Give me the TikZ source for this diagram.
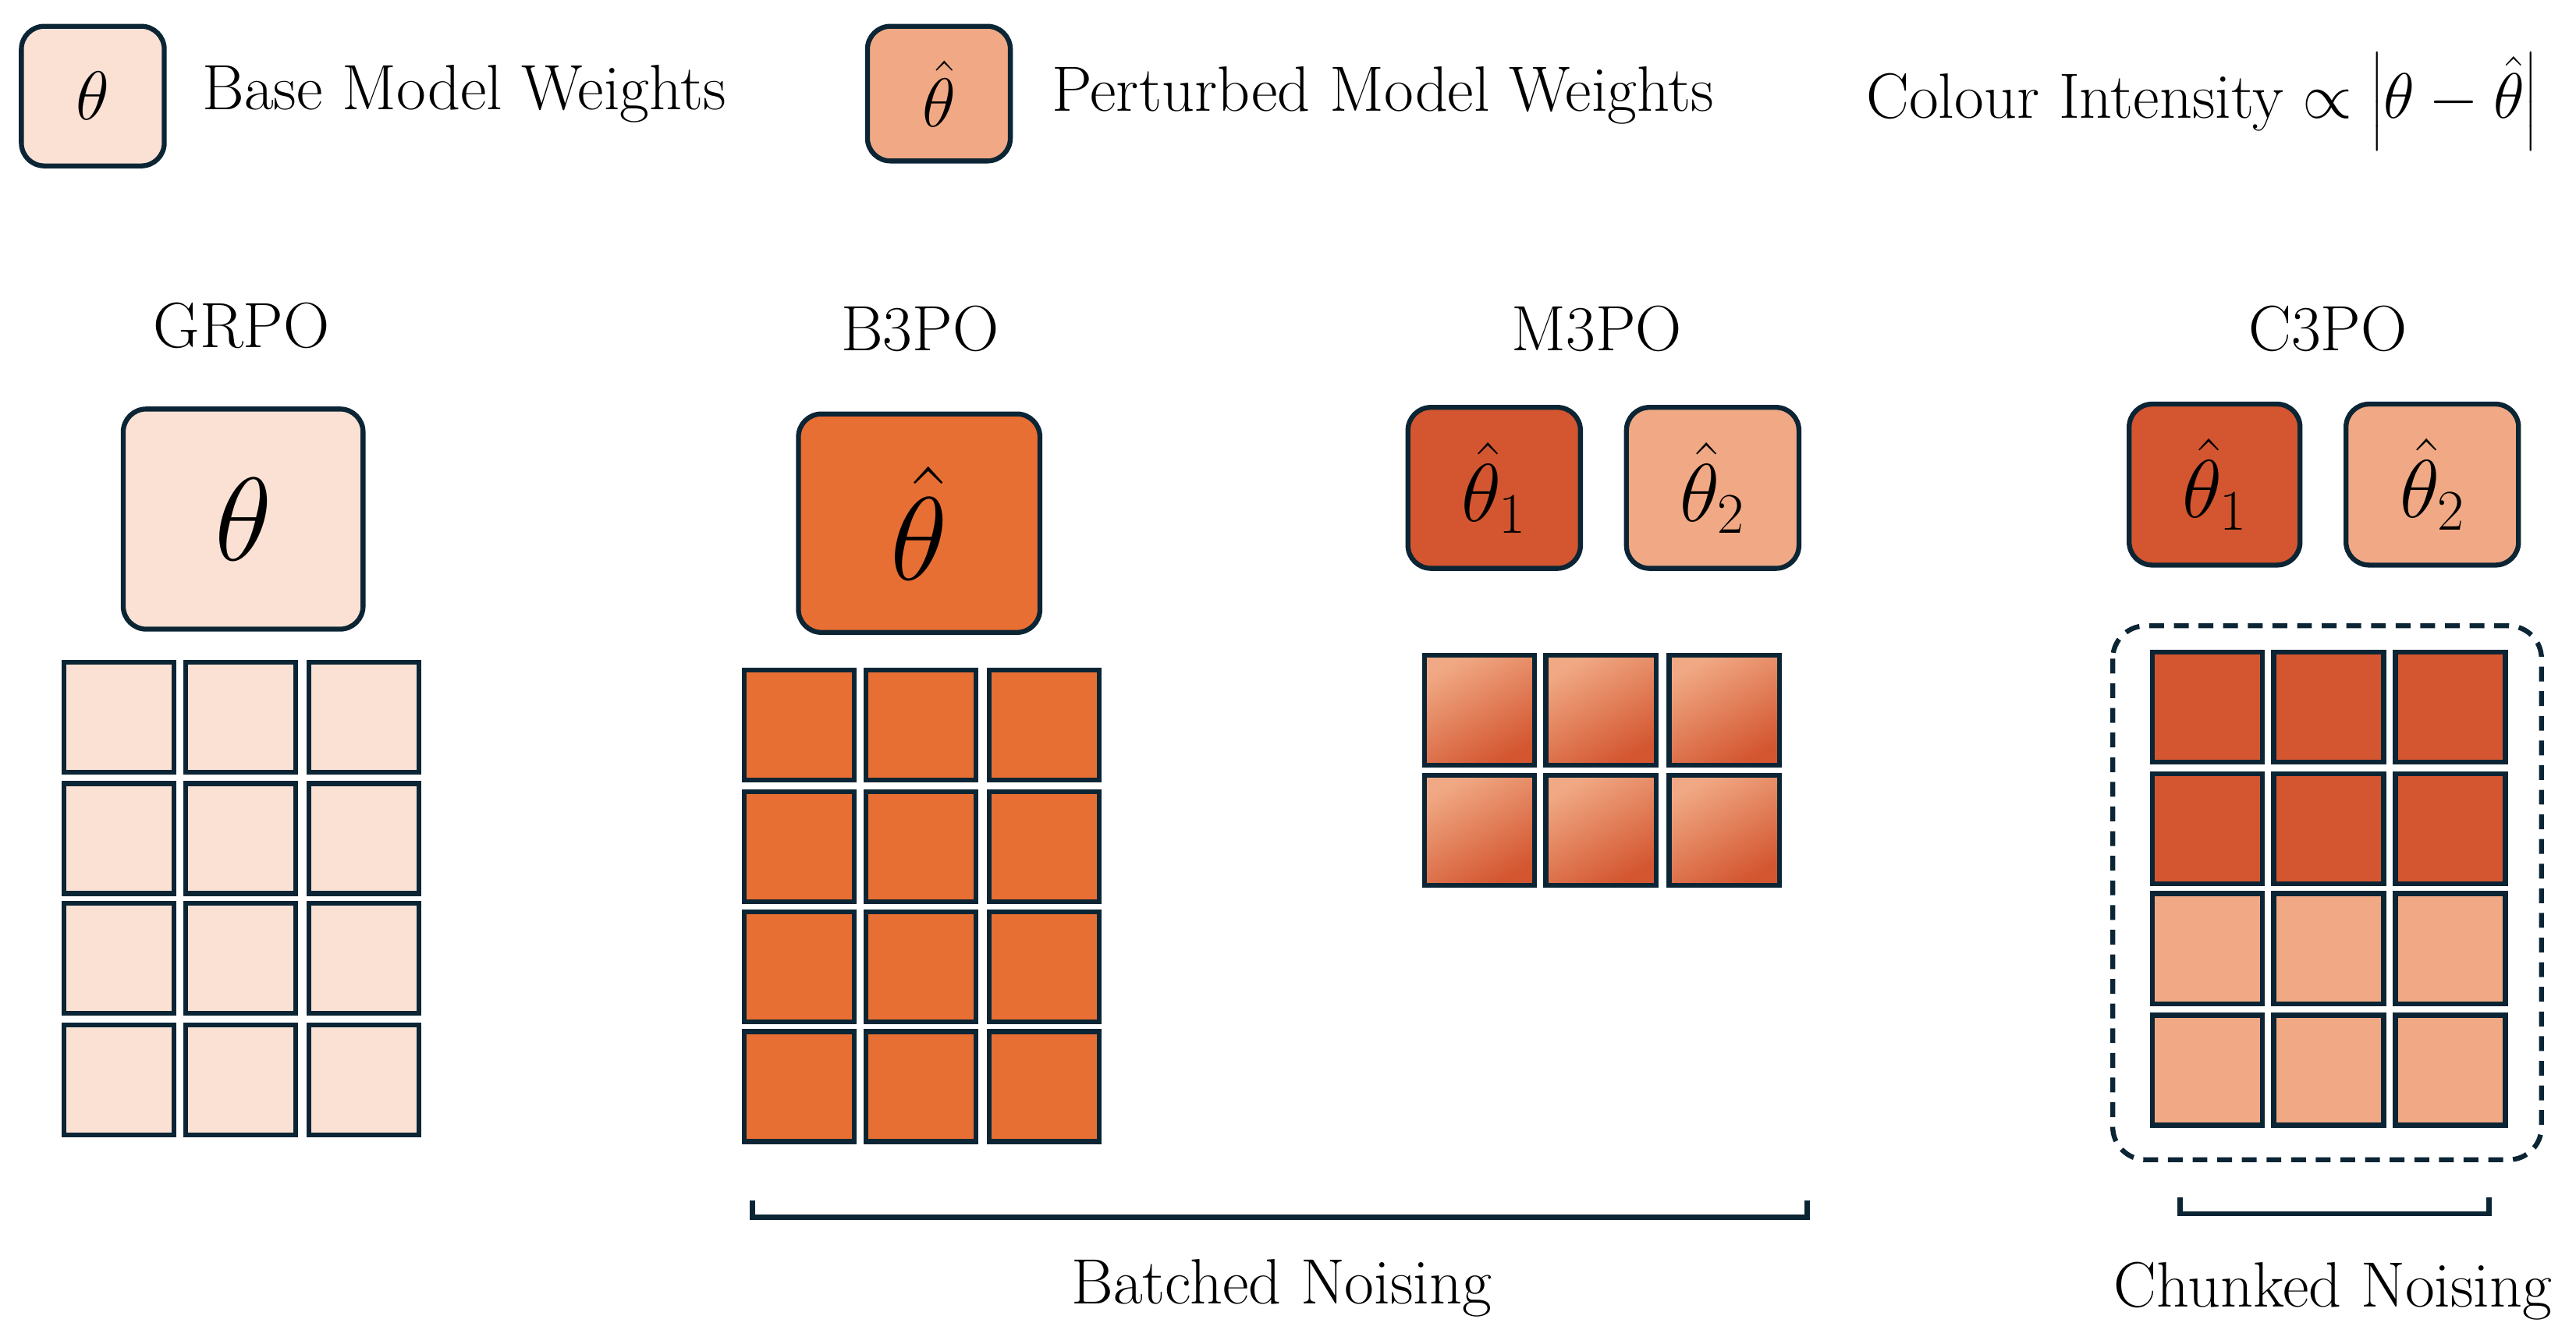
\documentclass[tikz,border=0pt]{standalone}
\usepackage{fix-cm}
\usepackage{amsmath}
\begin{document}
\definecolor{ln}{HTML}{0B2535}
\definecolor{pale}{HTML}{FAE1D4}
\definecolor{light}{HTML}{F0A984}
\definecolor{mid}{HTML}{E86F33}
\definecolor{dark}{HTML}{D35630}
\begin{tikzpicture}[x=1pt,y=-1pt,
  wbox/.style={draw=ln,line width=3pt,rounded corners=14pt},
  cell/.style={draw=ln,line width=3pt},
  txt/.style={font=\fontsize{39}{46}\selectfont,inner sep=0pt},
  ttl/.style={font=\fontsize{39}{46}\selectfont,inner sep=0pt}]
\useasboundingbox (0,0) rectangle (1568,818);
% legend
\node[wbox,fill=pale,minimum width=87pt,minimum height=85pt,font=\fontsize{42}{48}\selectfont] (l1) at (56.5,58.5) {$\theta$};
\node[txt,anchor=west] (l1t) at (123,57) {Base Model Weights};
\node[wbox,fill=light,minimum width=87pt,minimum height=82pt,font=\fontsize{42}{48}\selectfont] (l2) at (571.5,57) {$\hat\theta$};
\node[txt,anchor=west] (l2t) at (640,58) {Perturbed Model Weights};
\node[txt,anchor=east] (l3t) at (1545,62) {Colour Intensity $\propto \left|\theta-\hat\theta\right|$};
% titles
\node[ttl] (t1) at (147,198) {GRPO};
\node[ttl] (t2) at (560,200) {B3PO};
\node[ttl] (t3) at (972,200) {M3PO};
\node[ttl] (t4) at (1417,200) {C3PO};
% big boxes
\node[wbox,fill=pale,minimum width=146pt,minimum height=134pt,font=\fontsize{72}{80}\selectfont] (g) at (148,316) {$\theta$};
\node[wbox,fill=mid,minimum width=147pt,minimum height=133pt,font=\fontsize{72}{80}\selectfont] (b) at (559.5,318.5) {$\hat\theta$};
\node[wbox,fill=dark,minimum width=105pt,minimum height=98pt,font=\fontsize{50}{56}\selectfont] (m1) at (909.5,297) {$\hat\theta_1$};
\node[wbox,fill=light,minimum width=105pt,minimum height=98pt,font=\fontsize{50}{56}\selectfont] (m2) at (1042.5,297) {$\hat\theta_2$};
\node[wbox,fill=dark,minimum width=104pt,minimum height=98pt,font=\fontsize{50}{56}\selectfont] (c1) at (1348,295) {$\hat\theta_1$};
\node[wbox,fill=light,minimum width=105pt,minimum height=98pt,font=\fontsize{50}{56}\selectfont] (c2) at (1480.5,295) {$\hat\theta_2$};
% grids
\foreach \i/\x in {0/39,1/113,2/188}{\foreach \j/\y in {0/403,1/477,2/550,3/624}{
  \draw[cell,fill=pale] (\x,\y) rectangle ++(67,67);}}
\foreach \i/\x in {0/453,1/527,2/602}{\foreach \j/\y in {0/408,1/482,2/555,3/628}{
  \draw[cell,fill=mid] (\x,\y) rectangle ++(67,67);}}
\foreach \i/\x in {0/867,1/941,2/1016}{\foreach \j/\y in {0/399,1/472}{
  \shade[top color=light,bottom color=dark,middle color=light!50!dark,shading angle=30] (\x,\y) rectangle ++(67,67);
  \draw[cell] (\x,\y) rectangle ++(67,67);}}
\foreach \i/\x in {0/1310,1/1384,2/1458}{
  \foreach \j/\y in {0/397,1/471}{\draw[cell,fill=dark] (\x,\y) rectangle ++(67,67);}
  \foreach \j/\y in {2/544,3/618}{\draw[cell,fill=light] (\x,\y) rectangle ++(67,67);}}
\draw[ln,line width=3pt,dashed,dash pattern=on 9pt off 6pt,rounded corners=20pt] (1286,381) rectangle (1547,706);
% brackets
\coordinate (ba) at (458,731); \coordinate (bb) at (1100,731);
\draw[ln,line width=3pt] (ba) -- ++(0,10) -| (bb);
\node[txt] (bl) at (780,784) {Batched Noising};
\coordinate (ca) at (1327,729); \coordinate (cb) at (1515,729);
\draw[ln,line width=3pt] (ca) -- ++(0,10) -| (cb);
\node[txt] (cl) at (1420,786) {Chunked Noising};
\end{tikzpicture}
\end{document}
